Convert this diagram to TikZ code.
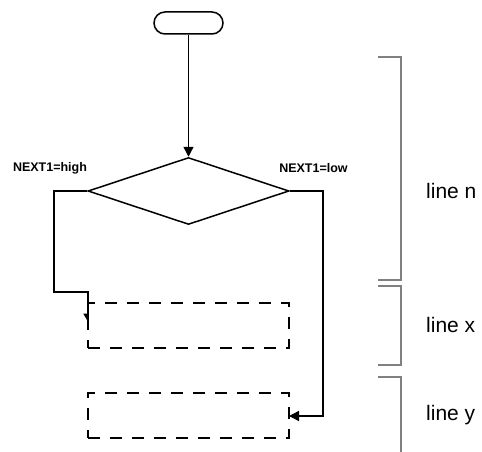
\documentclass[tikz,border=0pt]{standalone}
\usepackage{fontspec}
\setmainfont{Liberation Sans}
\usetikzlibrary{shapes.geometric,arrows.meta}
\begin{document}
\begin{tikzpicture}[x=1pt,y=-1pt,
  flowline/.style={line width=1.5pt,black},
  arrowtip/.style={-{Triangle[length=10pt,width=10pt]}},
  terminal/.style={draw,line width=1.5pt,rounded corners=11pt,minimum width=69pt,minimum height=22pt,inner sep=0pt},
  decision/.style={draw,line width=1.5pt,shape=diamond,aspect=3,minimum width=201pt,minimum height=67pt,inner sep=0pt},
  stepbox/.style={draw,line width=1.5pt,dash pattern=on 12pt off 10pt,minimum width=201pt,minimum height=45pt,inner sep=0pt},
  brace/.style={line width=1.2pt,draw={rgb,255:red,128;green,128;blue,128}},
  condlabel/.style={font=\fontsize{12.5}{14}\selectfont\bfseries,inner sep=0pt},
  linelabel/.style={font=\fontsize{21}{24}\selectfont,inner sep=0pt,anchor=west}]
\useasboundingbox (0,0) rectangle (482,452);
% shapes
\node[terminal] (term) at (188.5,23) {};
\node[decision] (dec) at (188.5,191) {};
\node[stepbox] (bx) at (188.5,325.5) {};
\node[stepbox] (by) at (188.5,415.5) {};
% routing points
\coordinate (l1) at (54,191);
\coordinate (l2) at (54,292);
\coordinate (l3) at (88,292);
\coordinate (lend) at (88,323);
\coordinate (r1) at (323,191);
\coordinate (r2) at (323,416);
\coordinate (rend) at (289,416);
% connectors
\draw[flowline,arrowtip] (term.south) -- (dec.north);
\draw[flowline,-{Triangle[length=8pt,width=9pt,right]}] (dec.west) -- (l1) -- (l2) -- (l3) -- (lend);
\draw[flowline,arrowtip] (dec.east) -- (r1) -- (r2) -- (rend);
% condition labels
\node[condlabel] (hi) at (50,168) {NEXT1=high};
\node[condlabel] (lo) at (313.5,168) {NEXT1=low};
% brackets
\coordinate (bn1) at (378,57);
\coordinate (bn2) at (401,57);
\coordinate (bn3) at (401,280);
\coordinate (bn4) at (378,280);
\draw[brace] (bn1) -- (bn2) -- (bn3) -- (bn4);
\coordinate (bx1) at (378,286);
\coordinate (bx2) at (401,286);
\coordinate (bx3) at (401,365);
\coordinate (bx4) at (378,365);
\draw[brace] (bx1) -- (bx2) -- (bx3) -- (bx4);
\coordinate (by1) at (378,377);
\coordinate (by2) at (401,377);
\coordinate (by3) at (401,452);
\draw[brace] (by1) -- (by2) -- (by3);
% bracket labels
\node[linelabel] (ln) at (426,191) {line n};
\node[linelabel] (lx) at (426,325) {line x};
\node[linelabel] (ly) at (426,415) {line y};
\end{tikzpicture}
\end{document}
